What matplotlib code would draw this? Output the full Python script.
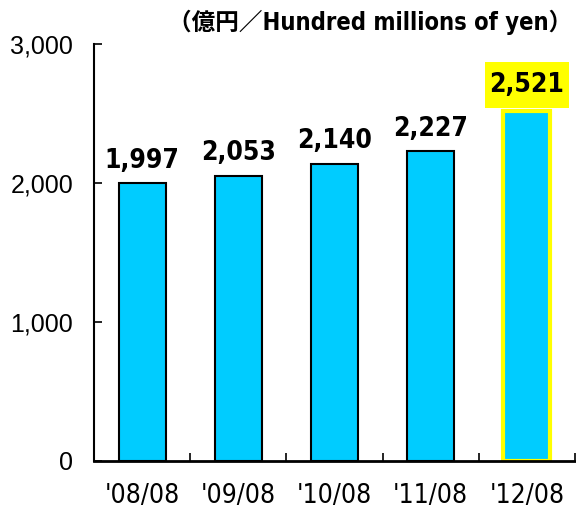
import matplotlib
matplotlib.use("Agg")
import matplotlib.pyplot as plt
from matplotlib.ticker import FuncFormatter
from matplotlib.patches import Rectangle

categories = ["'08/08", "'09/08", "'10/08", "'11/08", "'12/08"]
values = [1997, 2053, 2140, 2227, 2521]
value_labels = ["1,997", "2,053", "2,140", "2,227", "2,521"]
yticks = [0, 1000, 2000, 3000]
unit_label = "（億円／Hundred millions of yen）"

narrow = ["DejaVu Sans", "Noto Sans CJK JP"]

fig = plt.figure(figsize=(5.76, 5.09), dpi=100)
ax = fig.add_axes([94/576, 1-461/509, (575-94)/576, (461-44)/509])

x = list(range(len(categories)))
colors = ["#00CCFF"] * 5
edges = ["black"] * 4 + ["#FFFF00"]
lws = [1.5] * 4 + [3.0]
ax.bar(x, values, width=0.49, color=colors, edgecolor=edges, linewidth=lws, zorder=2)

ax.set_xlim(-0.5, 4.5)
ax.set_ylim(0, 3000)
ax.set_yticks(yticks)
ax.yaxis.set_major_formatter(FuncFormatter(lambda v, p: f"{int(v):,}"))
ax.tick_params(axis="y", direction="in", length=6, width=1.2, labelsize=18, pad=15)
for t in ax.get_yticklabels():
    t.set_fontfamily("Liberation Sans")

ax.set_xticks([i + 0.5 for i in range(-1, 5)], minor=True)
ax.set_xticks(x)
ax.set_xticklabels(categories, fontfamily=narrow, fontsize=19, fontstretch="condensed")
ax.tick_params(axis="x", which="major", length=0, pad=16)
ax.tick_params(axis="x", which="minor", direction="in", length=6, width=1.2)

for s in ["top", "right"]:
    ax.spines[s].set_visible(False)
ax.spines["left"].set_linewidth(1.5)
ax.spines["bottom"].set_linewidth(2)

for i, (v, lab) in enumerate(zip(values, value_labels)):
    kw = dict(ha="center", fontsize=19, fontweight="bold",
              fontfamily=narrow, fontstretch="condensed", zorder=4)
    if i == 4:
        ax.add_patch(Rectangle((i - 0.435, v + 20), 0.87, 330, facecolor="#FFFF00",
                               edgecolor="none", zorder=3, clip_on=False))
        ax.text(i, v + 20 + 165, lab, va="center", **kw)
    else:
        ax.text(i, v + 70, lab, va="bottom", **kw)

fig.text(572/576, 1-22/509, unit_label, ha="right", va="center", fontsize=17,
         fontfamily=narrow, fontweight="bold", fontstretch="condensed")

fig.savefig("out.png", dpi=100)
